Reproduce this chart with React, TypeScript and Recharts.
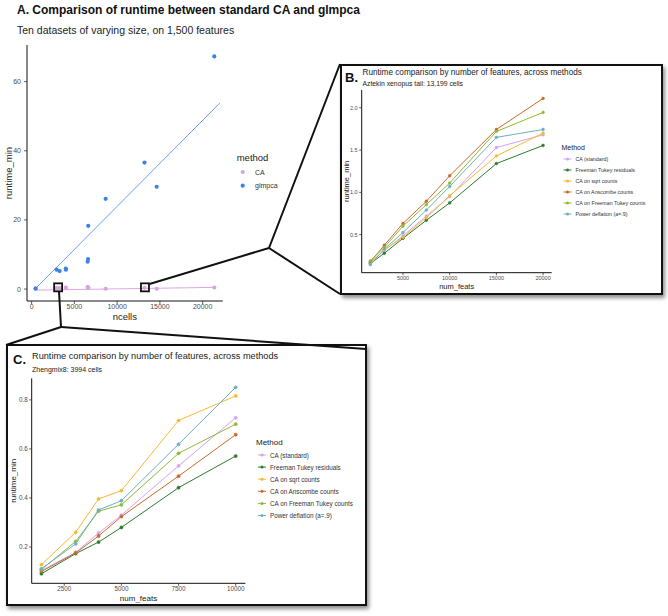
import React from 'react';
import { ScatterChart, Scatter, LineChart, Line, XAxis, YAxis, ReferenceDot } from 'recharts';

const FONT = '"Liberation Sans", Arial, Helvetica, sans-serif';

// A. ten datasets, 1,500 features
const ncells = [470, 2920, 3270, 3994, 4010, 6550, 6600, 6620, 8655, 13199, 14620, 21357];
const glmpcaMin = [0.2, 5.6, 5.2, 5.9, 5.6, 7.9, 8.7, 18.3, 26.1, 36.6, 29.6, 67.3];
const caMin = [0.05, 0.3, 0.25, 0.4, 0.35, 0.6, 0.5, 0.4, 0.1, 0.35, 0.1, 0.45];
const glmpcaFitX = [470, 22000];
const glmpcaFitY = [0.2, 53.8];
const caFitX = [470, 21357];
const caFitY = [-0.3, 0.5];
const zoomX = [3100, 13250];
const zoomY = [0.5, 0.5];

// B / C. runtime by number of features
const methods = [
  'CA (standard)',
  'Freeman Tukey residuals',
  'CA on sqrt counts',
  'CA on Anscombe counts',
  'CA on Freeman Tukey counts',
  'Power deflation (a=.9)',
];
const methodColors = ['#d3a3f0', '#2e7a2e', '#f5b935', '#c9692c', '#8fba35', '#6cafc0'];

const featsB = [1500, 3000, 5000, 7500, 10000, 15000, 20000];
const aztekin = [
  [0.17, 0.315, 0.485, 0.72, 0.95, 1.53, 1.68],
  [0.16, 0.28, 0.457, 0.67, 0.875, 1.34, 1.555],
  [0.165, 0.32, 0.47, 0.7, 0.96, 1.43, 1.7],
  [0.18, 0.375, 0.633, 0.895, 1.196, 1.743, 2.11],
  [0.19, 0.35, 0.6, 0.855, 1.11, 1.72, 1.945],
  [0.145, 0.33, 0.525, 0.79, 1.07, 1.65, 1.743],
];

const featsC = [1500, 3000, 4000, 5000, 7500, 10000];
const zhengmix8 = [
  [0.104, 0.178, 0.257, 0.33, 0.531, 0.727],
  [0.091, 0.173, 0.22, 0.28, 0.442, 0.571],
  [0.128, 0.26, 0.396, 0.43, 0.716, 0.816],
  [0.1, 0.176, 0.245, 0.324, 0.489, 0.658],
  [0.108, 0.223, 0.346, 0.372, 0.582, 0.701],
  [0.111, 0.213, 0.351, 0.389, 0.619, 0.851],
];

const toRows = (feats: number[], series: number[][]) =>
  feats.map((f, i) => {
    const row: Record<string, number> = { feats: f };
    series.forEach((s, k) => (row['m' + k] = s[i]));
    return row;
  });

const pts = (xs: number[], ys: number[]) => xs.map((x, i) => ({ x, y: ys[i] }));

const axisLine = { stroke: '#111', strokeWidth: 1 };
const tickLine = { stroke: '#333', strokeWidth: 0.8 };

function PanelA() {
  const dot = (color: string) => (p: any) => <circle cx={p.cx} cy={p.cy} r={2.1} fill={color} />;
  const square = (p: any) => (
    <rect x={p.cx - 4} y={p.cy - 4} width={8} height={8} fill="none" stroke="#111" strokeWidth={1.8} />
  );
  return (
    <ScatterChart width={230} height={325} margin={{ top: 45, right: 7.3, bottom: 2, left: 0 }}>
      <XAxis
        type="number" dataKey="x" domain={[-540, 22340]} allowDataOverflow
        ticks={[0, 5000, 10000, 15000, 20000]} tickSize={3} tickMargin={0.5}
        tick={{ fontSize: 7, fill: '#4d4d4d', fontFamily: FONT }} axisLine={axisLine} tickLine={tickLine}
        height={22}
        label={{ value: 'ncells', position: 'insideBottom', offset: 3.5, fontSize: 9.5, fill: '#222', fontFamily: FONT }}
      />
      <YAxis
        type="number" dataKey="y" domain={[-3.45, 70.6]} allowDataOverflow
        ticks={[0, 20, 40, 60]} tickSize={3} tickMargin={3}
        tick={{ fontSize: 7, fill: '#4d4d4d', fontFamily: FONT }} axisLine={axisLine} tickLine={tickLine}
        width={27}
        label={{ value: 'runtime_min', angle: -90, position: 'insideLeft', offset: 8.3, fontSize: 9.5, fill: '#222', fontFamily: FONT, style: { textAnchor: 'middle' } }}
      />
      <Scatter data={pts(caFitX, caFitY)} line={{ stroke: '#dfa6e6', strokeWidth: 1 }} shape={() => <g />} isAnimationActive={false} />
      <Scatter data={pts(glmpcaFitX, glmpcaFitY)} line={{ stroke: '#5f93e0', strokeWidth: 0.9 }} shape={() => <g />} isAnimationActive={false} />
      <Scatter data={pts(ncells, caMin)} shape={dot('#d7a4dc')} isAnimationActive={false} />
      <Scatter data={pts(ncells, glmpcaMin)} shape={dot('#3b83e2')} isAnimationActive={false} />
      {zoomX.map((x, i) => (
        <ReferenceDot key={i} x={x} y={zoomY[i]} r={4} shape={square} />
      ))}
    </ScatterChart>
  );
}

type RunProps = {
  feats: number[]; series: number[][]; width: number; height: number;
  margin: { top: number; right: number; bottom: number; left: number };
  xDomain: number[]; yDomain: number[]; xTicks: number[]; yTicks: number[];
  yFmt: (v: number) => string; yAxisW: number; xAxisH: number;
  tickFs: number; labelFs: number; yLabelOff: number; xLabelOff: number; dotR: number;
};

function RuntimeChart(p: RunProps) {
  const rows = toRows(p.feats, p.series);
  return (
    <LineChart width={p.width} height={p.height} data={rows} margin={p.margin}>
      <XAxis
        type="number" dataKey="feats" domain={p.xDomain} allowDataOverflow ticks={p.xTicks}
        tickSize={2.5} tickMargin={1} height={p.xAxisH}
        tick={{ fontSize: p.tickFs, fill: '#4d4d4d', fontFamily: FONT }} axisLine={axisLine} tickLine={tickLine}
        label={{ value: 'num_feats', position: 'insideBottom', offset: p.xLabelOff, fontSize: p.labelFs, fill: '#222', fontFamily: FONT }}
      />
      <YAxis
        type="number" domain={p.yDomain} allowDataOverflow ticks={p.yTicks} tickFormatter={p.yFmt}
        tickSize={2.5} tickMargin={1.5} width={p.yAxisW}
        tick={{ fontSize: p.tickFs, fill: '#4d4d4d', fontFamily: FONT }} axisLine={axisLine} tickLine={tickLine}
        label={{ value: 'runtime_min', angle: -90, position: 'insideLeft', offset: p.yLabelOff, fontSize: p.labelFs, fill: '#222', fontFamily: FONT, style: { textAnchor: 'middle' } }}
      />
      {methods.map((m, k) => (
        <Line
          key={m} type="linear" dataKey={'m' + k} name={m} stroke={methodColors[k]} strokeWidth={1}
          dot={{ r: p.dotR, fill: methodColors[k], stroke: methodColors[k], strokeWidth: 0.5 }}
          activeDot={false} isAnimationActive={false}
        />
      ))}
    </LineChart>
  );
}

function MethodLegend({ x, y, titleFs, fs, gap, step }: { x: number; y: number; titleFs: number; fs: number; gap: number; step: number }) {
  return (
    <g fontFamily={FONT}>
      <text x={x} y={y} fontSize={titleFs} fill="#222" dominantBaseline="central">Method</text>
      {methods.map((m, k) => {
        const yy = y + gap + k * step;
        return (
          <g key={m}>
            <line x1={x + 2} x2={x + 10} y1={yy} y2={yy} stroke={methodColors[k]} strokeWidth={1} />
            <circle cx={x + 6} cy={yy} r={1.5} fill={methodColors[k]} />
            <text x={x + 14} y={yy} fontSize={fs} fill="#333" dominantBaseline="central">{m}</text>
          </g>
        );
      })}
    </g>
  );
}

const boxStyle = (l: number, t: number, w: number, h: number): React.CSSProperties => ({
  position: 'absolute', left: l, top: t, width: w, height: h, boxSizing: 'border-box',
  border: '2px solid #111', background: '#fff', boxShadow: '2px 3px 4px rgba(0,0,0,0.45)',
});

export default function App() {
  return (
    <div style={{ position: 'absolute', left: 0, top: 0, width: 668, height: 616, background: '#fff', overflow: 'hidden' }}>
      <div style={{ position: 'absolute', left: 0, top: 0 }}>
        <PanelA />
      </div>
      <div style={boxStyle(340, 64, 323, 231)} />
      <div style={boxStyle(6, 344, 361, 262)} />
      <div style={{ position: 'absolute', left: 341, top: 64 }}>
        <RuntimeChart
          feats={featsB} series={aztekin} width={320} height={230}
          margin={{ top: 26, right: 109.3, bottom: 3.3, left: 0 }}
          xDomain={[575, 20925]} yDomain={[0.05, 2.21]} xTicks={[5000, 10000, 15000, 20000]} yTicks={[0.5, 1, 1.5, 2]}
          yFmt={(v) => v.toFixed(1)} yAxisW={20.7} xAxisH={18} tickFs={5.5} labelFs={7.5}
          yLabelOff={5} xLabelOff={1.7} dotR={1.4}
        />
      </div>
      <div style={{ position: 'absolute', left: 6, top: 344 }}>
        <RuntimeChart
          feats={featsC} series={zhengmix8} width={360} height={262}
          margin={{ top: 34.3, right: 120.6, bottom: 3.7, left: 0 }}
          xDomain={[1075, 10425]} yDomain={[0.052, 0.888]} xTicks={[2500, 5000, 7500, 10000]} yTicks={[0.2, 0.4, 0.6, 0.8]}
          yFmt={(v) => v.toFixed(1)} yAxisW={25.7} xAxisH={19} tickFs={6.3} labelFs={8}
          yLabelOff={7.3} xLabelOff={1.3} dotR={1.6}
        />
      </div>
      <svg width={668} height={616} style={{ position: 'absolute', left: 0, top: 0, pointerEvents: 'none' }}>
        <g fontFamily={FONT}>
          <text x={17} y={10} fontSize={12} fontWeight="bold" fill="#111" dominantBaseline="central">
            A. Comparison of runtime between standard CA and glmpca
          </text>
          <text x={17} y={30} fontSize={10.5} fill="#222" dominantBaseline="central">
            Ten datasets of varying size, on 1,500 features
          </text>
          <text x={236.7} y={157} fontSize={9.5} fill="#222" dominantBaseline="central">method</text>
          <circle cx={242.7} cy={172} r={2.1} fill="#d7a4dc" />
          <text x={255} y={172} fontSize={7} fill="#333" dominantBaseline="central">CA</text>
          <circle cx={242.7} cy={185.7} r={2.1} fill="#3b83e2" />
          <text x={255} y={185.7} fontSize={7} fill="#333" dominantBaseline="central">glmpca</text>

          <text x={345} y={77} fontSize={13} fontWeight="bold" fill="#111" dominantBaseline="central">B.</text>
          <text x={362.5} y={72.5} fontSize={8.2} fill="#222" dominantBaseline="central">
            Runtime comparison by number of features, across methods
          </text>
          <text x={362.5} y={83.5} fontSize={6.8} fill="#222" dominantBaseline="central">
            Aztekin xenopus tail: 13,199 cells
          </text>
          <MethodLegend x={561.5} y={147.3} titleFs={7} fs={5.3} gap={11.7} step={11} />

          <text x={13} y={359} fontSize={13} fontWeight="bold" fill="#111" dominantBaseline="central">C.</text>
          <text x={32} y={355.5} fontSize={9.2} fill="#222" dominantBaseline="central">
            Runtime comparison by number of features, across methods
          </text>
          <text x={32} y={369} fontSize={7} fill="#222" dominantBaseline="central">Zhengmix8: 3994 cells</text>
          <MethodLegend x={256} y={442} titleFs={8} fs={6.3} gap={13} step={12.1} />
        </g>
        <g stroke="#111" strokeWidth={2} fill="none" strokeLinejoin="round">
          <polyline points="149.5,284 269,248 340,64" />
          <line x1={269} y1={248} x2={340} y2={294} />
          <polyline points="59,291 61,327 6,345" />
          <line x1={61} y1={327} x2={366} y2={349} />
        </g>
      </svg>
    </div>
  );
}
